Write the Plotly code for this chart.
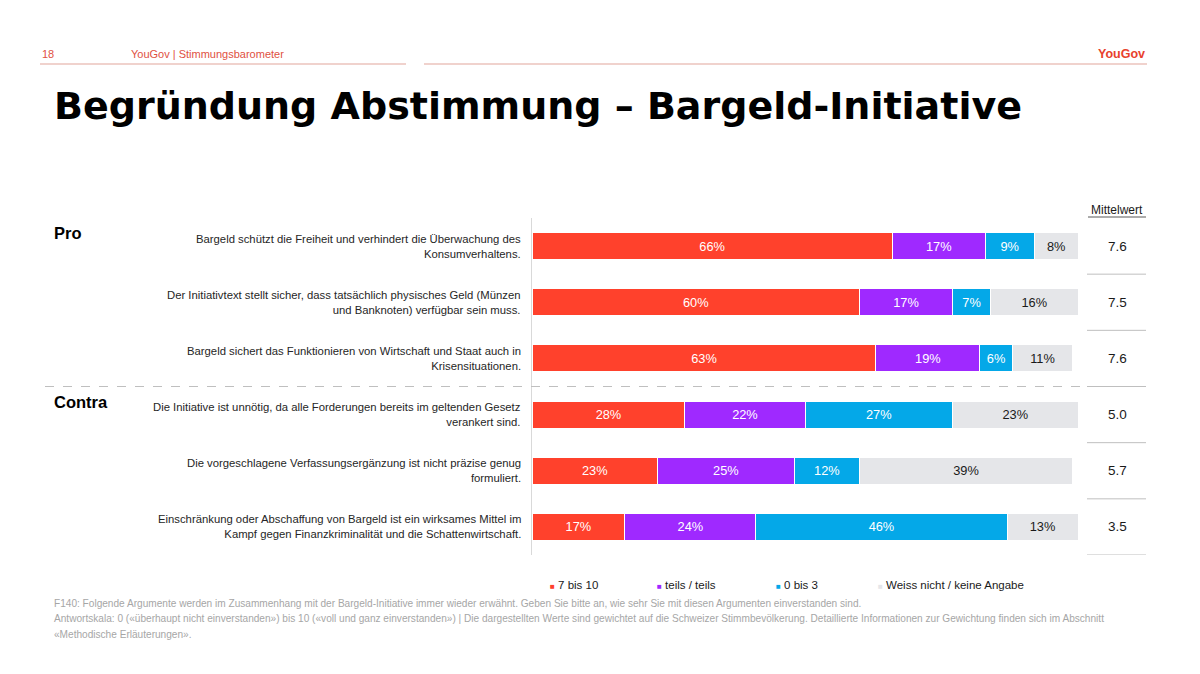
import plotly.graph_objects as go

# page is offset by the default 8px body margin; figure sized to fit the window
OFF = 8
W, H = 1192, 666
def xp(px): return (px - OFF) / W
def yp(py): return 1 - (py - OFF) / H

statements = [
    "Bargeld schützt die Freiheit und verhindert die Überwachung des<br>Konsumverhaltens.",
    "Der Initiativtext stellt sicher, dass tatsächlich physisches Geld (Münzen<br>und Banknoten) verfügbar sein muss.",
    "Bargeld sichert das Funktionieren von Wirtschaft und Staat auch in<br>Krisensituationen.",
    "Die Initiative ist unnötig, da alle Forderungen bereits im geltenden Gesetz<br>verankert sind.",
    "Die vorgeschlagene Verfassungsergänzung ist nicht präzise genug<br>formuliert.",
    "Einschränkung oder Abschaffung von Bargeld ist ein wirksames Mittel im<br>Kampf gegen Finanzkriminalität und die Schattenwirtschaft.",
]
series_names = ["7 bis 10", "teils / teils", "0 bis 3", "Weiss nicht / keine Angabe"]
agree = [66, 60, 63, 28, 23, 17]
neutral = [17, 17, 19, 22, 25, 24]
disagree = [9, 7, 6, 27, 12, 46]
dontknow = [8, 16, 11, 23, 39, 13]
means = ["7.6", "7.5", "7.6", "5.0", "5.7", "3.5"]
groups = ["Pro", "Contra"]

colors = ["#FF412C", "#9F29FF", "#04A8E8", "#E5E6E9"]
text_colors = ["white", "white", "white", "#1a1a1a"]
values = [agree, neutral, disagree, dontknow]
rows = list(range(len(statements)))

FONT = "Liberation Sans, Arial, sans-serif"

fig = go.Figure()
for name, vals, col, tcol in zip(series_names, values, colors, text_colors):
    fig.add_trace(go.Bar(
        x=vals, y=rows, orientation="h", name=name,
        marker=dict(color=col, line=dict(color="white", width=1)),
        width=0.48,
        text=[f"{v}%" for v in vals], texttemplate="%{text}",
        textposition="inside", insidetextanchor="middle", textangle=0,
        insidetextfont=dict(color=tcol, size=12.8, family=FONT),
        hoverinfo="skip", showlegend=False,
    ))

annotations = []
# statement labels
for r, s in zip(rows, statements):
    annotations.append(dict(x=xp(523), y=r, xref="paper", yref="y", text=s,
                            showarrow=False, xanchor="right", yanchor="middle", align="right",
                            font=dict(size=11.3, color="#262626", family=FONT)))
# means
for r, m in zip(rows, means):
    annotations.append(dict(x=xp(1117), y=r, xref="paper", yref="y", text=m,
                            showarrow=False, xanchor="center", yanchor="middle",
                            font=dict(size=13.5, color="#1a1a1a", family=FONT)))
annotations.append(dict(x=xp(1117), y=yp(210), xref="paper", yref="paper", text="Mittelwert",
                        showarrow=False, xanchor="center", yanchor="middle",
                        font=dict(size=12, color="#1a1a1a", family=FONT)))
# group labels
for g, py in zip(groups, [233, 402]):
    annotations.append(dict(x=xp(52), y=yp(py), xref="paper", yref="paper", text=f"<b>{g}</b>",
                            showarrow=False, xanchor="left", yanchor="middle",
                            font=dict(size=16.5, color="#000000", family=FONT)))
# legend (as text items)
legend_x = [548, 655, 774, 876]
for name, col, lx in zip(series_names, colors, legend_x):
    annotations.append(dict(x=xp(lx), y=yp(585), xref="paper", yref="paper",
                            text=f"<span style='color:{col};font-size:8px'>■</span> {name}",
                            showarrow=False, xanchor="left", yanchor="middle",
                            font=dict(size=11.5, color="#1a1a1a", family=FONT)))
# header
annotations.append(dict(x=xp(40), y=yp(54), xref="paper", yref="paper", text="18",
                        showarrow=False, xanchor="left", yanchor="middle",
                        font=dict(size=11, color="#E0513F", family=FONT)))
annotations.append(dict(x=xp(129), y=yp(54), xref="paper", yref="paper", text="YouGov | Stimmungsbarometer",
                        showarrow=False, xanchor="left", yanchor="middle",
                        font=dict(size=11, color="#E0513F", family=FONT)))
annotations.append(dict(x=xp(1147), y=yp(54), xref="paper", yref="paper", text="<b>YouGov</b>",
                        showarrow=False, xanchor="right", yanchor="middle",
                        font=dict(size=12.5, color="#E8412C", family=FONT)))
# title
annotations.append(dict(x=xp(52), y=yp(106), xref="paper", yref="paper",
                        text="<b>Begründung Abstimmung – Bargeld-Initiative</b>",
                        showarrow=False, xanchor="left", yanchor="middle",
                        font=dict(size=38, color="#000000", family="DejaVu Sans, sans-serif")))
# footnotes
foot = [
    "F140: Folgende Argumente werden im Zusammenhang mit der Bargeld-Initiative immer wieder erwähnt. Geben Sie bitte an, wie sehr Sie mit diesen Argumenten einverstanden sind.",
    "Antwortskala: 0 («überhaupt nicht einverstanden») bis 10 («voll und ganz einverstanden») | Die dargestellten Werte sind gewichtet auf die Schweizer Stimmbevölkerung. Detaillierte Informationen zur Gewichtung finden sich im Abschnitt",
    "«Methodische Erläuterungen».",
]
for i, t in enumerate(foot):
    annotations.append(dict(x=xp(52), y=yp(603 + 15.5 * i), xref="paper", yref="paper", text=t,
                            showarrow=False, xanchor="left", yanchor="middle",
                            font=dict(size=10.1, color="#A6A6A6", family=FONT)))

shapes = []
# header lines
shapes.append(dict(type="line", xref="paper", yref="paper", x0=xp(40), x1=xp(406), y0=yp(64), y1=yp(64),
                   line=dict(color="#EBC3BC", width=1.5)))
shapes.append(dict(type="line", xref="paper", yref="paper", x0=xp(424), x1=xp(1147), y0=yp(64), y1=yp(64),
                   line=dict(color="#EBC3BC", width=1.5)))
# Mittelwert underline
shapes.append(dict(type="line", xref="paper", yref="paper", x0=xp(1088), x1=xp(1146), y0=yp(217), y1=yp(217),
                   line=dict(color="#595959", width=1)))
# mean separators
for r in rows:
    shapes.append(dict(type="line", xref="paper", yref="y", x0=xp(1087), x1=xp(1146), y0=r + 0.5, y1=r + 0.5,
                       line=dict(color="#BFBFBF", width=1)))
# dashed pro/contra separator
shapes.append(dict(type="line", xref="paper", yref="y", x0=xp(45), x1=xp(1146), y0=2.5, y1=2.5,
                   line=dict(color="#BFBFBF", width=1, dash="dash")))

fig.update_layout(
    width=W, height=H, margin=dict(l=0, r=0, t=0, b=0),
    paper_bgcolor="white", plot_bgcolor="white",
    barmode="stack", bargap=0.5,
    font=dict(family=FONT, color="#1a1a1a"),
    xaxis=dict(domain=[xp(532), xp(1078)], range=[0, 100], visible=False, fixedrange=True),
    yaxis=dict(domain=[yp(555), yp(218)], range=[5.5, -0.5], showticklabels=False, ticks="",
               showgrid=False, zeroline=False, showline=True, linecolor="#D9D9D9", linewidth=1,
               fixedrange=True),
    showlegend=False,
    annotations=annotations, shapes=shapes,
)

fig.write_html("out.html")
